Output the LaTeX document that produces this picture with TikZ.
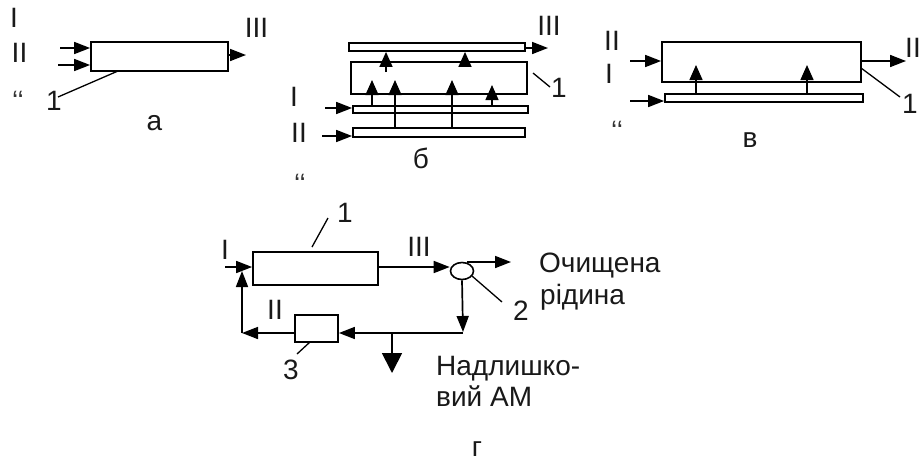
\documentclass[tikz,border=0pt]{standalone}
\usepackage{fontspec}
\setmainfont{Liberation Sans}
\usetikzlibrary{arrows.meta,shapes.geometric}
\begin{document}
\begin{tikzpicture}[x=1pt,y=-1pt,
  box/.style={draw,line width=1.8pt,inner sep=0pt},
  lbl/.style={font=\fontsize{28}{30}\selectfont,inner sep=0pt,text=black!90},
  tick/.style={font=\fontsize{28}{30}\selectfont,inner sep=0pt,text=black!80},
  lead/.style={line width=1.3pt},
  arr/.style={line width=1.7pt,-{Triangle[length=16pt,width=12pt]}},
  arrv/.style={line width=1.4pt,-{Triangle[length=15pt,width=13pt]}},
  bigarr/.style={line width=1.7pt,-{Triangle[length=20pt,width=20pt]}}]
\useasboundingbox (0,0) rectangle (923,461);
\fill[white] (0,0) rectangle (923,461);

% ---------- panel a ----------
\node[box,minimum width=137pt,minimum height=29pt] (a1) at (159.5,56.5) {};
\coordinate (aI) at (60,48);
\coordinate (aII) at (58,65);
\draw[arr] (aI) -- (aI -| a1.west);
\draw[arr] (aII) -- (aII -| a1.west);
\coordinate (aO) at (246,55);
\draw[arr] (aO -| a1.east) -- (aO);
\node[lbl] (aLI) at (14,18) {I};
\node[lbl] (aLII) at (19.5,52.5) {II};
\node[lbl] (aLIII) at (256.5,27.5) {III};
\node[lbl] (aL1) at (54,101) {1};
\coordinate (aP1) at (118,71);
\coordinate (aP2) at (58,97);
\draw[lead] (aP1) -- (aP2);
\node[tick] (aq) at (18,101) {‘‘};
\node[lbl] (aLa) at (154.5,123.5) {а};

% ---------- panel b ----------
\node[box,minimum width=176pt,minimum height=8pt] (bT) at (437,47) {};
\node[box,minimum width=176pt,minimum height=32pt] (b1) at (439,78) {};
\node[box,minimum width=175pt,minimum height=7pt] (bP1) at (440.5,109.5) {};
\node[box,minimum width=172pt,minimum height=9pt] (bP2) at (439,132.5) {};
\coordinate (bO) at (548,48);
\draw[arr] (bT.east |- bO) -- (bO);
\node[lbl] (bLIII) at (549,26) {III};
\node[lbl] (bL1) at (559,88) {1};
\coordinate (bP1a) at (533,73);
\coordinate (bP1b) at (550,87);
\draw[lead] (bP1a) -- (bP1b);
\node[lbl] (bLI) at (294,97) {I};
\node[lbl] (bLII) at (299,133) {II};
\coordinate (bI) at (325,108);
\coordinate (bII) at (322,136);
\draw[arr] (bI) -- (bI -| bP1.west);
\draw[arr] (bII) -- (bII -| bP2.west);
% rising arrows into chamber
\coordinate (bv1) at (372,80);
\coordinate (bv2) at (395,80);
\coordinate (bv3) at (452,80);
\coordinate (bv4) at (492,85);
\draw[arrv] (bv1 |- bP1.north) -- (bv1);
\draw[arrv] (bv2 |- bP2.north) -- (bv2);
\draw[arrv] (bv3 |- bP2.north) -- (bv3);
\draw[arrv] (bv4 |- bP1.north) -- (bv4);
% arrows to top plate
\coordinate (bu1) at (386,72);
\coordinate (bu2) at (465,63);
\draw[arrv] (bu1) -- (bu1 |- bT.south);
\draw[arrv] (bu2) -- (bu2 |- bT.south);
\node[lbl] (bLb) at (421,158) {б};
\node[tick] (bq) at (300,184) {‘‘};

% ---------- panel v ----------
\node[box,minimum width=199pt,minimum height=40pt] (c1) at (761.5,62) {};
\node[box,minimum width=198pt,minimum height=8pt] (cP) at (764,98) {};
\coordinate (cI) at (630,61);
\coordinate (cII) at (630,101);
\draw[arr] (cI) -- (cI -| c1.west);
\draw[arr] (cII) -- (cII -| cP.west);
\coordinate (cO) at (906,61);
\draw[arr] (cO -| c1.east) -- (cO);
\coordinate (cv1) at (696,65);
\coordinate (cv2) at (807,65);
\draw[arrv] (cv1 |- cP.north) -- (cv1);
\draw[arrv] (cv2 |- cP.north) -- (cv2);
\node[lbl] (cLII) at (612,41) {II};
\node[lbl] (cLI) at (609,74) {I};
\node[lbl] (cLIIr) at (913,48) {II};
\node[lbl] (cL1) at (910,104) {1};
\coordinate (cP1a) at (861,68);
\coordinate (cP1b) at (900,97);
\draw[lead] (cP1a) -- (cP1b);
\node[lbl] (cLv) at (750,140) {в};
\node[tick] (cq) at (617,131) {‘‘};

% ---------- panel g ----------
\node[box,minimum width=125pt,minimum height=33pt] (g1) at (315.5,268.5) {};
\node[box,minimum width=43pt,minimum height=27pt] (g3) at (316.5,328.5) {};
\node[draw,ellipse,line width=1.6pt,minimum width=23pt,minimum height=17pt,inner sep=0pt] (g2) at (462,271) {};
\node[lbl] (gL1) at (345,213) {1};
\coordinate (gP1a) at (312,247);
\coordinate (gP1b) at (328,218);
\draw[lead] (gP1a) -- (gP1b);
\node[lbl] (gLI) at (225,250) {I};
\coordinate (gI) at (225,267);
\draw[arr] (gI) -- (gI -| g1.west);
\node[lbl] (gLIII) at (419,247) {III};
\draw[arr] (g1.east |- 0,267) -- (g2.west |- 0,267);
\coordinate (gOs) at (467,262);
\coordinate (gOe) at (511,262);
\draw[arr] (gOs) -- (gOe);
\node[lbl,anchor=base west] (gTx1) at (539,272) {Очищена};
\node[lbl,anchor=base west] (gTx2) at (540,304) {рідина};
\node[lbl] (gL2) at (521,311) {2};
\coordinate (gP2a) at (472,276);
\coordinate (gP2b) at (502,302);
\draw[lead] (gP2a) -- (gP2b);
% separator down and return
\coordinate (gD) at (463,332);
\draw[arr] (g2.south) -- (gD);
\coordinate (gR) at (463,333);
\draw[arr] (gR) -- (gR -| g3.east);
\coordinate (gB) at (392,333);
\coordinate (gBe) at (392,373);
\draw[bigarr] (gB) -- (gBe);
\node[lbl,anchor=base west] (gTx3) at (436,375) {Надлишко-};
\node[lbl,anchor=base west] (gTx4) at (436,406) {вий АМ};
% recycle
\coordinate (gC) at (242,333);
\coordinate (gU) at (242,271);
\draw[arr] (g3.west |- gC) -- (gC);
\draw[arr] (gC) -- (gU);
\node[lbl] (gLII) at (275,310) {II};
\node[lbl] (gL3) at (291,370) {3};
\coordinate (gP3a) at (310,342);
\coordinate (gP3b) at (297,354);
\draw[lead] (gP3a) -- (gP3b);
\node[lbl] (gLg) at (477,449) {г};
\end{tikzpicture}
\end{document}
